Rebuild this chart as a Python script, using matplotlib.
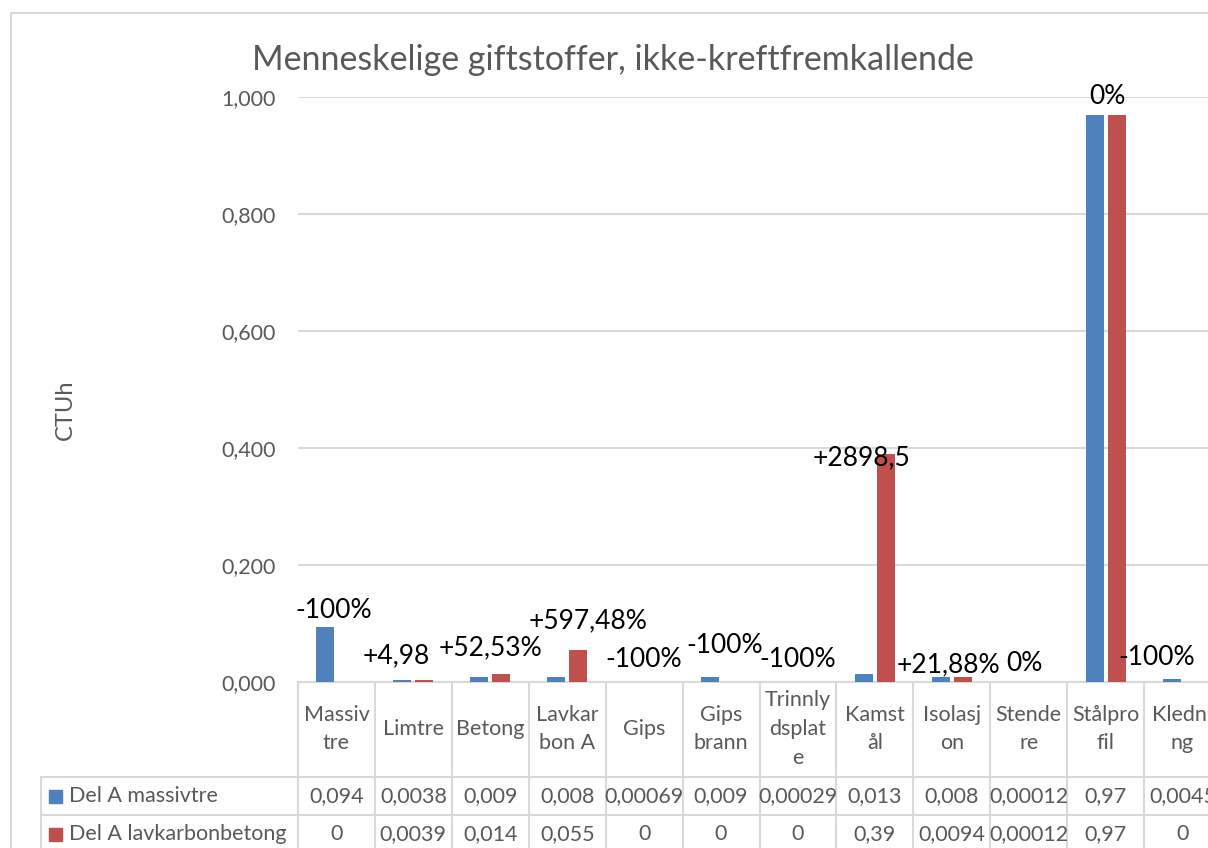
import matplotlib

matplotlib.use("Agg")

import matplotlib.pyplot as plt
import numpy as np
from matplotlib.lines import Line2D
from matplotlib.patches import Rectangle
from matplotlib.transforms import blended_transform_factory

plt.rcParams["font.family"] = ["Lato", "DejaVu Sans"]

# data
categories = ["Massivtre", "Limtre", "Betong", "Lavkarbon A", "Gips", "Gips brann",
              "Trinnlydsplate", "Kamstål", "Isolasjon", "Stendere", "Stålprofil", "Kledning"]
tick_text = ["Massiv\ntre", "Limtre", "Betong", "Lavkar\nbon A", "Gips", "Gips\nbrann",
             "Trinnly\ndsplat\ne", "Kamst\nål", "Isolasj\non", "Stende\nre", "Stålpro\nfil", "Kledni\nng"]
massivtre = [0.094, 0.0038, 0.009, 0.008, 0.00069, 0.009, 0.00029, 0.013, 0.008, 0.00012, 0.97, 0.0045]
lavkarbon = [0, 0.0039, 0.014, 0.055, 0, 0, 0, 0.39, 0.0094, 0.00012, 0.97, 0]
change_labels = ["-100%", "+4,98", "+52,53%", "+597,48%", "-100%", "-100%", "-100%",
                 "+2898,5", "+21,88%", "0%", "0%", "-100%"]
series_names = ["Del A massivtre", "Del A lavkarbonbetong"]

# label placement tweaks (x in category units, y in pixels)
label_dx = [-0.04, -0.22, 0.0, 0.27, 0.0, 0.05, 0.0, -0.17, -0.04, -0.05, 0.03, -0.33]
label_dy = [17, 24, 26, 29, 22, 31, 22, -4, 12, 18, 18, 22]

BLUE = "#4F81BD"
RED = "#C0504D"
GREY = "#595959"
GRID = "#D9D9D9"
TABLE_FS = 15.5

W, H = 1208, 848
fig = plt.figure(figsize=(W / 100, H / 100), dpi=100)


def fx(x):
    return x / W


def fy(y):
    return 1 - y / H


ax = fig.add_axes([fx(298), fy(682), fx(1221) - fx(298), fy(97) - fy(682)])
x = np.arange(len(categories))
width = 0.235
ax.bar(x - 0.143, massivtre, width, color=BLUE, zorder=3)
ax.bar(x + 0.143, lavkarbon, width, color=RED, zorder=3)

ax.set_xlim(-0.5, len(categories) - 0.5)
ax.set_ylim(0, 1.0)
ax.set_yticks(np.arange(0, 1.01, 0.2))
ax.set_yticklabels([f"{v:.3f}".replace(".", ",") for v in np.arange(0, 1.01, 0.2)])
ax.tick_params(axis="y", length=0, pad=16, labelsize=15.5, labelcolor=GREY)
ax.set_xticks([])
ax.grid(axis="y", color=GRID, linewidth=1.5, zorder=0)
for side in ["left", "right", "top"]:
    ax.spines[side].set_visible(False)
ax.spines["bottom"].set_color(GRID)
ax.spines["bottom"].set_linewidth(1.5)

for i, lab in enumerate(change_labels):
    top = max(massivtre[i], lavkarbon[i])
    ax.annotate(lab, (i + label_dx[i], top), xytext=(0, label_dy[i]), textcoords="offset pixels",
                ha="center", va="center", fontsize=19, color="black", zorder=5,
                annotation_clip=False)

# data table under the axis
tr = blended_transform_factory(ax.transData, fig.transFigure)
for b in np.arange(-0.5, len(categories) + 0.5, 1.0):
    fig.add_artist(Line2D([b, b], [fy(682), fy(848)], transform=tr, color=GRID, linewidth=1.5))
for yy in [777, 815]:
    fig.add_artist(Line2D([fx(41), 1.0], [fy(yy), fy(yy)], transform=fig.transFigure,
                          color=GRID, linewidth=1.5))
fig.add_artist(Line2D([fx(41), fx(41)], [fy(777), fy(848)], transform=fig.transFigure,
                      color=GRID, linewidth=1.5))

for i, t in enumerate(tick_text):
    fig.text(i, fy(729), t, transform=tr, ha="center", va="center", fontsize=TABLE_FS,
             color=GREY, linespacing=1.55)

row_y = [796, 834]
for vals, color, name, ry in zip([massivtre, lavkarbon], [BLUE, RED], series_names, row_y):
    fig.add_artist(Rectangle((fx(49), fy(ry + 7)), fx(13), fy(ry - 6) - fy(ry + 7),
                             transform=fig.transFigure, color=color))
    fig.text(fx(69), fy(ry), name, ha="left", va="center", fontsize=TABLE_FS, color=GREY)
    for i, v in enumerate(vals):
        fig.text(i, fy(ry), f"{v:g}".replace(".", ","), transform=tr, ha="center",
                 va="center", fontsize=TABLE_FS, color=GREY)

fig.text(fx(613), fy(60), "Menneskelige giftstoffer, ikke-kreftfremkallende",
         ha="center", va="center", fontsize=24.5, color=GREY)
fig.text(fx(65), fy(410), "CTUh", ha="center", va="center", rotation=90,
         fontsize=17, color=GREY)

# chart border
fig.add_artist(Line2D([fx(11), fx(11), 1.0], [0, fy(13), fy(13)], transform=fig.transFigure,
                      color=GRID, linewidth=1.5))

fig.savefig("out.png", dpi=100)
